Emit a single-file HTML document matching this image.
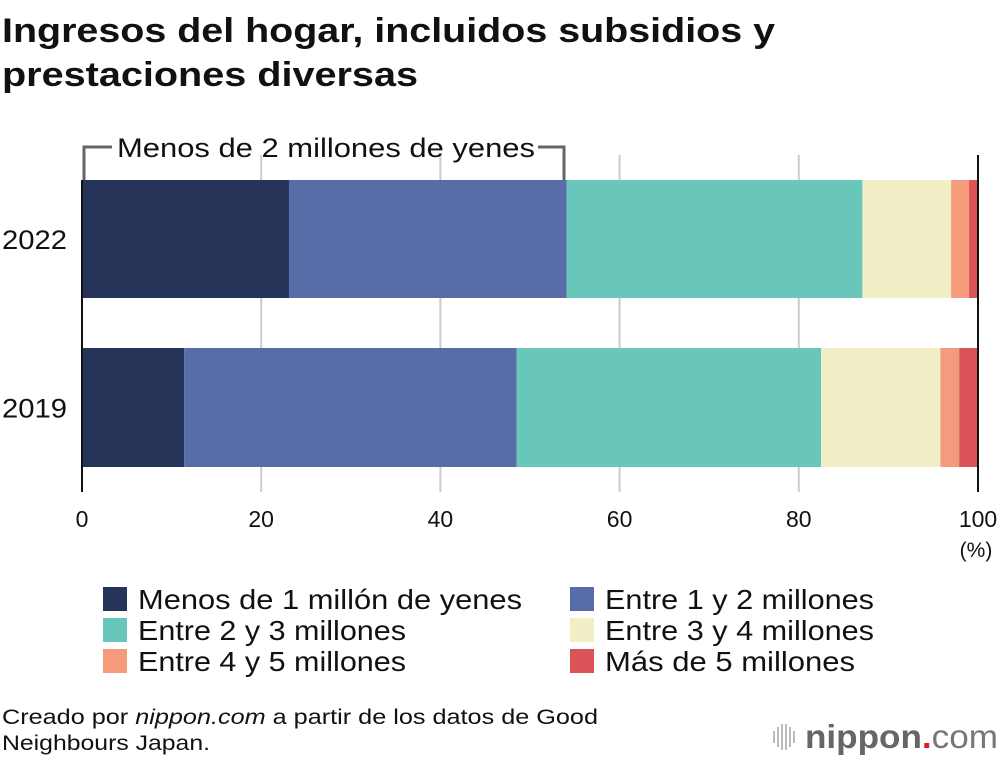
<!DOCTYPE html>
<html><head><meta charset="utf-8"><style>
body{margin:0;background:#fff;font-family:"Liberation Sans",Arial,sans-serif;}
svg{display:block}
</style></head><body>
<svg width="1000" height="758" viewBox="0 0 1000 758">
<text x="2" y="42" font-size="34" font-weight="bold" fill="#111" textLength="773" lengthAdjust="spacingAndGlyphs">Ingresos del hogar, incluidos subsidios y</text>
<text x="2" y="86" font-size="34" font-weight="bold" fill="#111" textLength="416" lengthAdjust="spacingAndGlyphs">prestaciones diversas</text>
<g id="grid"></g>
<g id="bars"></g>
<g id="axis"></g>
<g>
<path d="M84,180 V147 H112 M538,147 H564 V180" fill="none" stroke="#666" stroke-width="3"/>
<text x="117" y="157" font-size="27" fill="#111" textLength="418" lengthAdjust="spacingAndGlyphs">Menos de 2 millones de yenes</text>
</g>
<g id="legend"></g>
<text x="2" y="724" font-size="21" fill="#111" textLength="596" lengthAdjust="spacingAndGlyphs">Creado por <tspan font-style="italic">nippon.com</tspan> a partir de los datos de Good</text>
<text x="2" y="750" font-size="21" fill="#111" textLength="208" lengthAdjust="spacingAndGlyphs">Neighbours Japan.</text>
<g>
<g stroke="#bbb" stroke-width="2"><line x1="774" y1="731" x2="774" y2="743"/><line x1="778" y1="727" x2="778" y2="747"/><line x1="782" y1="724" x2="782" y2="750"/><line x1="786" y1="724" x2="786" y2="750"/><line x1="790" y1="727" x2="790" y2="747"/><line x1="794" y1="731" x2="794" y2="743"/></g>
<text x="805" y="748" font-size="33" font-weight="bold" fill="#666" textLength="193" lengthAdjust="spacingAndGlyphs">nippon<tspan fill="#e02020">.</tspan><tspan font-weight="normal" fill="#777">com</tspan></text>
</g>
</svg>
<script>
const categories = ["2022","2019"];
const seriesNames = ["Menos de 1 millón de yenes","Entre 1 y 2 millones","Entre 2 y 3 millones","Entre 3 y 4 millones","Entre 4 y 5 millones","Más de 5 millones"];
const values2022 = [23.1, 31.0, 33.0, 9.9, 2.0, 1.0];
const values2019 = [11.4, 37.1, 34.0, 13.3, 2.1, 2.1];
const tickValues = [0,20,40,60,80,100];
const colors = ["#263459","#586ca7","#68c6bb","#f2eec6","#f39b7a","#da5457"];
const NS="http://www.w3.org/2000/svg";
const x0=82, x1=978;
const xs=v=>x0+(x1-x0)*v/100;
const rowTop=[180,348], rowH=[118,119];
function mk(t,a,p){const e=document.createElementNS(NS,t);for(const k in a)e.setAttribute(k,a[k]);p.appendChild(e);return e;}
const grid=document.getElementById('grid'), axis=document.getElementById('axis'), bars=document.getElementById('bars'), legend=document.getElementById('legend');
tickValues.forEach(t=>{
  if(t>0&&t<100){const l=mk('line',{x1:xs(t),x2:xs(t),y1:155,y2:492,stroke:'#ccc','stroke-width':2},grid);
  
  }
  const tx=mk('text',{x:xs(t),y:527,'font-size':23,'text-anchor':'middle',fill:'#111'},axis);
  tx.textContent=t;
  
  
});
const pc=mk('text',{x:976,y:557,'font-size':21,'text-anchor':'middle',fill:'#111'},axis);pc.textContent='(%)';


[values2022,values2019].forEach((vals,r)=>{
  let acc=0;
  vals.forEach((v,i)=>{
    const rc=mk('rect',{x:xs(acc),y:rowTop[r],width:xs(acc+v)-xs(acc),height:rowH[r],fill:colors[i]},bars);
    
    
    acc+=v;
  });
  const lb=mk('text',{x:2,y:rowTop[r]+rowH[r]/2+10,'font-size':27,fill:'#111',textLength:65,lengthAdjust:'spacingAndGlyphs'},axis);lb.textContent=categories[r];
  
  
});
const al=mk('line',{x1:x0,x2:x0,y1:180,y2:492,stroke:'#111','stroke-width':2},axis);


const ar=mk('line',{x1:x1,x2:x1,y1:155,y2:492,stroke:'#111','stroke-width':2},axis);


const legendTextWidths=[384,269,268,269,268,250];
seriesNames.forEach((n,i)=>{
  const cx=i%2?570:103, cy=587+Math.floor(i/2)*31;
  const g=mk('g',{},legend);
  
  
  mk('rect',{x:cx,y:cy,width:24,height:24,fill:colors[i]},g);
  const t=mk('text',{x:cx+35,y:cy+22,'font-size':28,fill:'#111',textLength:legendTextWidths[i],lengthAdjust:'spacingAndGlyphs'},g);t.textContent=n;
});
</script>
</body></html>
